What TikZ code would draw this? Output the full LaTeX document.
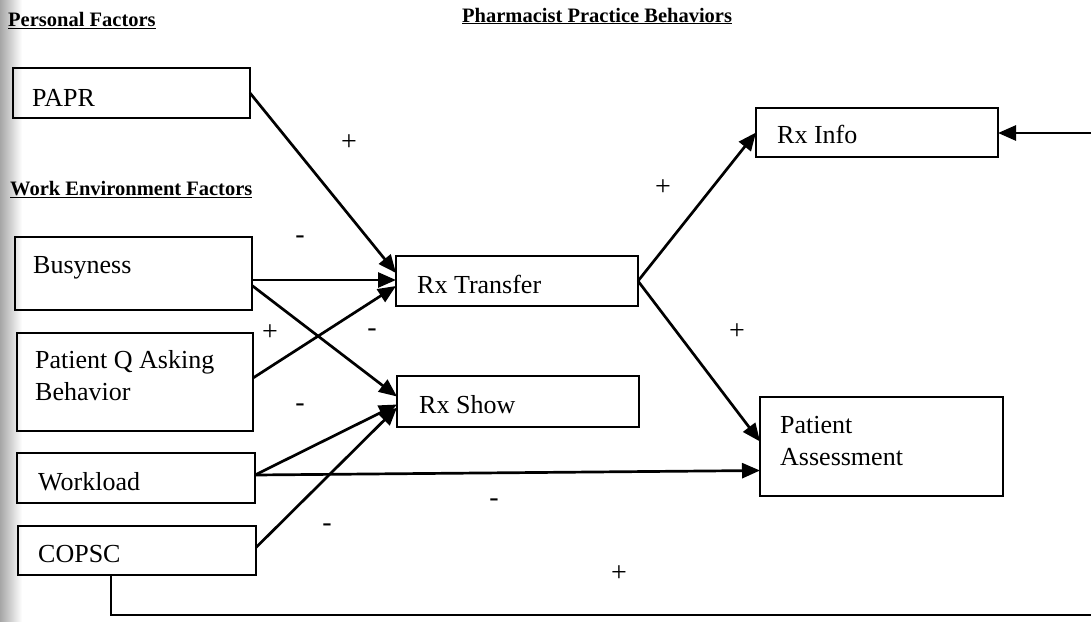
\documentclass[tikz,border=0pt]{standalone}
\usepackage{fontspec}
\setmainfont{Liberation Serif}
\usetikzlibrary{arrows.meta,shadings}

\tikzset{
  box/.style={draw, line width=2.8pt, inner sep=0pt, outer sep=0pt},
  boxtext/.style={anchor=base west, inner sep=0pt, font=\fontsize{26}{31.5}\selectfont, align=left},
  header/.style={anchor=base west, inner sep=0pt, font=\fontsize{20.5}{24}\selectfont\bfseries},
  sign/.style={inner sep=0pt, font=\fontsize{28}{32}\selectfont},
  link/.style={line width=2.7pt, -{Triangle[length=18pt,width=15pt]}},
}

\begin{document}
\begin{tikzpicture}[x=1pt,y=-1pt]
\useasboundingbox (0,0) rectangle (1091,621);
\fill[white] (0,0) rectangle (1091,621);
% soft grey edge along the left border of the page
\shade[left color=black!35, right color=white] (0,0) rectangle (22,621);

% column headings
\node[header] (hpers) at (8,27) {\underline{Personal Factors}};
\node[header] (hwork) at (10,195) {\underline{Work Environment Factors}};
\node[header] (hpharm) at (462,22) {\underline{Pharmacist Practice Behaviors}};

% factor boxes
\node[box, minimum width=237pt, minimum height=50pt] (papr) at (131.5,93) {};
\node[boxtext] (tpapr) at (32,106) {PAPR};
\node[box, minimum width=237pt, minimum height=73pt] (busy) at (133.5,273.5) {};
\node[boxtext] (tbusy) at (33,273) {Busyness};
\node[box, minimum width=236pt, minimum height=98pt] (patq) at (135,382) {};
\node[boxtext] (tpatq) at (35,400) {Patient Q Asking\\Behavior};
\node[box, minimum width=238pt, minimum height=50pt] (wl) at (136,478) {};
\node[boxtext] (twl) at (38,490) {Workload};
\node[box, minimum width=238pt, minimum height=49pt] (copsc) at (137,550.5) {};
\node[boxtext] (tcopsc) at (38,562) {COPSC};

% behaviour boxes
\node[box, minimum width=242pt, minimum height=50pt] (xfer) at (517,281) {};
\node[boxtext] (txfer) at (417,293) {Rx Transfer};
\node[box, minimum width=242pt, minimum height=51pt] (show) at (518,401.5) {};
\node[boxtext] (tshow) at (419,413) {Rx Show};
\node[box, minimum width=242pt, minimum height=49pt] (info) at (877,132.5) {};
\node[boxtext] (tinfo) at (777,143) {Rx Info};
\node[box, minimum width=243pt, minimum height=99pt] (pa) at (881.5,446.5) {};
\node[boxtext] (tpa) at (780,465) {Patient\\Assessment};

% paths into Rx Transfer
\draw[link] (papr.east) -- ([yshift=8pt]xfer.west);
\draw[link] ([yshift=-6.5pt]busy.east) -- ([yshift=1pt]xfer.west);
\draw[link] ([yshift=4pt]patq.east) -- ([yshift=-5pt]xfer.west);

% paths into Rx Show
\draw[link] ([yshift=-12pt]busy.east) -- ([yshift=5pt]show.west);
\draw[link] ([yshift=3pt]wl.east) -- ([yshift=-3pt]show.west);
\draw[link] ([yshift=3pt]copsc.east) -- ([yshift=-6pt]show.west);

% paths out of Rx Transfer
\draw[link] (xfer.east) -- (info.west);
\draw[link] (xfer.east) -- ([yshift=5pt]pa.west);

% Workload to Patient Assessment
\draw[link] ([yshift=3pt]wl.east) -- ([yshift=-24pt]pa.west);

% COPSC feedback to Rx Info, running round the page edge
\coordinate (cdown) at ([xshift=-26pt]copsc.south |- 0,615);
\coordinate (cright) at (1100,615);
\coordinate (cup) at (1100,133);
\begin{scope}
\clip (0,0) rectangle (1091,621);
\draw[line width=2.7pt] ([xshift=-26pt]copsc.south) -- (cdown) -- (cright) -- (cup);
\draw[link] (cup) -- ([yshift=-0.5pt]info.east);
\end{scope}

% path signs
\node[sign] (s1) at (349,143) {+};
\node[sign] (s2) at (663,188) {+};
\node[sign] (s3) at (300,240) {-};
\node[sign] (s4) at (270,333) {+};
\node[sign] (s5) at (372,333) {-};
\node[sign] (s6) at (300,408) {-};
\node[sign] (s7) at (737,332) {+};
\node[sign] (s8) at (327,528) {-};
\node[sign] (s9) at (494,503) {-};
\node[sign] (s10) at (619,574) {+};
\end{tikzpicture}
\end{document}
